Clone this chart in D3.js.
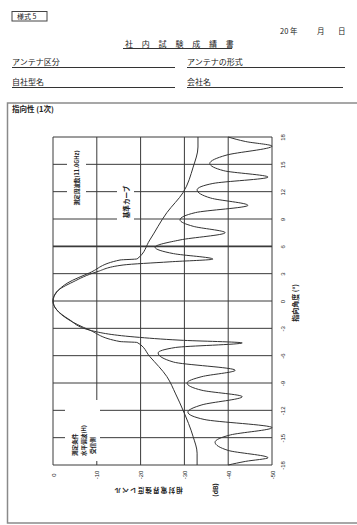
<!DOCTYPE html>
<html>
<head>
<meta charset="utf-8">
<title>社内試験成績書</title>
<script src="https://cdn.jsdelivr.net/npm/d3@7"></script>
<style>
  body { margin: 0; background: #fff; font-family: "Noto Sans CJK JP", sans-serif; }
  svg { display: block; }
  text { fill: #222; }
</style>
</head>
<body>
<div id="chart"></div>
<script>
// tick values
const angleTicks = [-18, -15, -12, -9, -6, -3, 0, 3, 6, 9, 12, 15, 18];
const levelTicks = [0, -10, -20, -30, -40, -50];

// measured pattern, angle (deg) / relative level (dB)
const measAngle = [-18.0, -17.6, -17.2, -16.4, -15.5, -14.7, -13.9, -13.0, -12.2, -11.4,
  -10.5, -9.8, -9.0, -8.3, -7.6, -6.7, -5.7, -5.1, -4.6, -4.3, -3.95, -3.2, -2.0, -1.0, 0,
  1.0, 2.1, 3.2, 3.95, 4.3, 4.6, 5.2, 5.9, 6.7, 7.5, 8.2, 8.9, 9.7, 10.5, 11.3, 12.2,
  12.9, 13.6, 14.3, 15.1, 16.0, 17.0, 17.5, 18.0];
const measLevel = [-40.0, -44.0, -49.1, -40.0, -37.0, -40.5, -50.0, -34.5, -30.8, -34.0,
  -43.2, -34.0, -30.6, -34.0, -41.6, -27.5, -24.0, -28.0, -43.2, -29.0, -18.7, -8.4, -3.6, -0.9, 0,
  -0.8, -4.6, -10.0, -16.0, -26.7, -36.5, -27.5, -23.3, -29.0, -39.3, -32.0, -29.0, -32.5, -44.5, -36.0, -32.9,
  -36.5, -49.1, -39.0, -35.8, -39.5, -50.0, -44.0, -40.0];

// reference curve (基準カーブ)
const refAngle = [-18.0, -16.7, -14.9, -12.0, -10.2, -8.3, -6.1, -4.55, -4.45, -3.2, -2.0, -1.0, 0,
  1.0, 2.0, 3.1, 4.5, 4.62, 6.7, 9.7, 11.9, 14.7, 16.9, 18.0];
const refLevel = [-32.9, -32.9, -32.0, -29.7, -28.0, -26.0, -22.1, -19.2, -15.3, -8.4, -3.4, -0.9, 0,
  -0.9, -3.4, -8.4, -15.3, -19.2, -22.1, -26.0, -29.7, -32.0, -33.1, -33.1];

const W = 357, H = 525;
const svg = d3.select("#chart").append("svg").attr("width", W).attr("height", H);

// ---- form header ----
svg.append("rect").attr("x", 12).attr("y", 11.5).attr("width", 35).attr("height", 9.5)
  .attr("fill", "none").attr("stroke", "#444").attr("stroke-width", 1);
svg.append("text").attr("x", 17).attr("y", 19.3).attr("font-size", 7).text("様式 5");

[["20", 280], ["年", 290], ["月", 317], ["日", 338]].forEach(([t, px]) => {
  svg.append("text").attr("x", px).attr("y", 34).attr("font-size", 7.5).text(t);
});

svg.append("text").attr("x", 125).attr("y", 46.5).attr("font-size", 8)
  .attr("letter-spacing", 8.8).text("社内試験成績書");
svg.append("line").attr("x1", 123).attr("x2", 232).attr("y1", 48.5).attr("y2", 48.5)
  .attr("stroke", "#333");

const fields = [["アンテナ区分", 12, 65, 175], ["アンテナの形式", 187, 65, 345],
                ["自社型名", 12, 85, 175], ["会社名", 187, 85, 343]];
fields.forEach(([t, px, py, ex]) => {
  svg.append("text").attr("x", px).attr("y", py).attr("font-size", 8).text(t);
  svg.append("line").attr("x1", px).attr("x2", ex).attr("y1", py + 2.5).attr("y2", py + 2.5)
    .attr("stroke", "#333");
});

// outer frame
svg.append("path").attr("d", "M357,103H7.5V523H357")
  .attr("fill", "none").attr("stroke", "#8a8a8a").attr("stroke-width", 1.5);
svg.append("text").attr("x", 12).attr("y", 112).attr("font-size", 7.5)
  .attr("font-weight", "bold").text("指向性 (1次)");

// ---- chart, turned a quarter turn: level runs left->right, angle bottom->top ----
const x = d3.scaleLinear().domain([0, -50]).range([53, 272]);
const y = d3.scaleLinear().domain([-18, 18]).range([465, 137]);

const grid = svg.append("g").attr("stroke", "#3a3a3a").attr("stroke-width", 1);
grid.selectAll(".v").data(levelTicks).join("line")
  .attr("x1", d => x(d)).attr("x2", d => x(d))
  .attr("y1", y(18)).attr("y2", y(-18));
grid.selectAll(".h").data(angleTicks).join("line")
  .attr("x1", x(0)).attr("x2", x(-50))
  .attr("y1", d => y(d)).attr("y2", d => y(d))
  .attr("stroke-width", d => d === 6 ? 1.8 : 1);

const line = d3.line()
  .x(d => x(d[1]))
  .y(d => y(d[0]))
  .curve(d3.curveMonotoneY);

svg.append("path").datum(d3.zip(refAngle, refLevel))
  .attr("d", line).attr("fill", "none").attr("stroke", "#333").attr("stroke-width", 1);
svg.append("path").datum(d3.zip(measAngle, measLevel))
  .attr("d", line).attr("fill", "none").attr("stroke", "#333").attr("stroke-width", 1);

// white boxes behind the notes inside the plot
[[67, 148, 19, 60], [117, 180, 17, 43], [65, 400, 35, 61]].forEach(([bx, by, bw, bh]) => {
  svg.append("rect").attr("x", bx).attr("y", by).attr("width", bw).attr("height", bh)
    .attr("fill", "#fff");
});

function vtext(px, py, t, size, anchor) {
  return svg.append("text")
    .attr("transform", `translate(${px},${py}) rotate(-90)`)
    .attr("text-anchor", anchor || "middle")
    .attr("dy", "0.35em")
    .attr("font-size", size)
    .text(t);
}
vtext(77, 178, "測定周波数(11.0GHz)", 5.6).attr("font-weight", "bold");
vtext(127, 202, "基準カーブ", 6.6).attr("font-weight", "bold");
vtext(75, 456, "測定条件", 5.6, "start").attr("font-weight", "bold");
vtext(84, 456, "水平偏波(H)", 5.6, "start").attr("font-weight", "bold");
vtext(93, 454, "受信側", 5.6, "start").attr("font-weight", "bold");

// axes
const yAxis = svg.append("g").attr("transform", "translate(283,0)")
  .call(d3.axisRight(y).tickValues(angleTicks).tickSize(0).tickFormat(d => String(d)));
const xAxis = svg.append("g").attr("transform", "translate(0,475)")
  .call(d3.axisBottom(x).tickValues(levelTicks).tickSize(0).tickFormat(d => String(d)));
[yAxis, xAxis].forEach(g => {
  g.select(".domain").remove();
  g.selectAll(".tick text")
    .attr("x", 0).attr("y", 0).attr("dy", "0.35em")
    .attr("transform", "rotate(-90)")
    .attr("text-anchor", "middle")
    .attr("font-size", 6)
    .attr("font-family", "Liberation Sans, Arial, sans-serif")
    .attr("fill", "#222");
});

// axis titles
vtext(296, 303, "指向角度 (°)", 7).attr("font-weight", "bold");
svg.append("text")
  .attr("transform", "translate(148,490) rotate(180)")
  .attr("text-anchor", "middle").attr("dy", "0.35em")
  .attr("font-size", 6.5).attr("letter-spacing", 1.2).attr("font-weight", "bold")
  .text("相対電界強度レベル");
vtext(216, 490, "(dB)", 6.5).attr("font-weight", "bold");
</script>
</body>
</html>
